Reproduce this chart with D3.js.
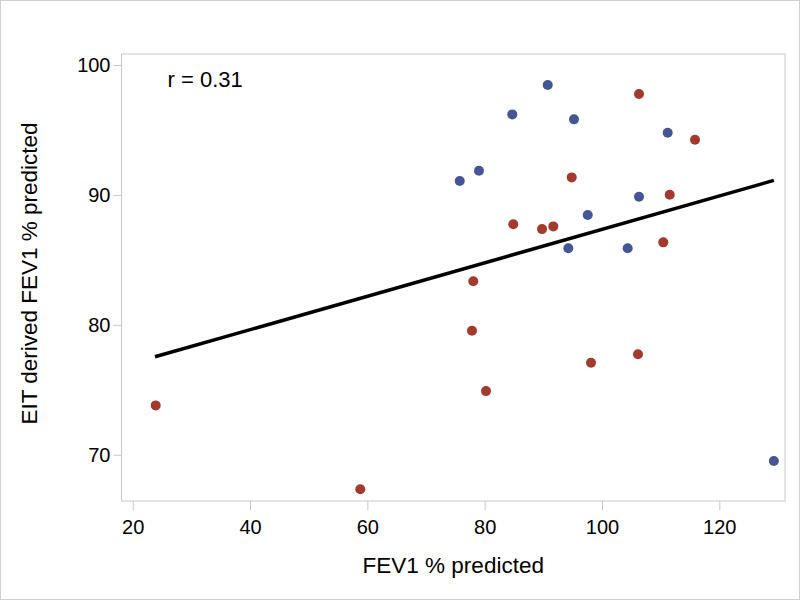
<!DOCTYPE html>
<html>
<head>
<meta charset="utf-8">
<script src="https://cdn.jsdelivr.net/npm/d3@7"></script>
<style>
  html, body { margin: 0; padding: 0; background: #fff; }
  svg { display: block; font-family: Arial, "Liberation Sans", sans-serif; }
</style>
</head>
<body>
<svg id="chart" width="800" height="600"></svg>
<script>
// Group 1 (blue)
const blueX = [90.75, 84.71, 95.23, 111.2, 75.75, 79.03, 106.31, 97.57, 94.26, 104.38, 129.3];
const blueY = [98.46, 96.20, 95.82, 94.79, 91.07, 91.86, 89.86, 88.45, 85.89, 85.89, 69.52];
// Group 2 (red)
const redX = [106.31, 115.86, 94.84, 111.55, 84.88, 89.78, 91.70, 110.45, 78.06, 77.84, 98.13, 106.14, 80.23, 23.92, 58.80];
const redY = [97.77, 94.25, 91.35, 90.02, 87.74, 87.37, 87.58, 86.35, 83.35, 79.55, 77.08, 77.73, 74.90, 73.80, 67.34];
// Regression line endpoints
const fitX = [23.8, 129.3];
const fitY = [77.54, 91.12];
const xTicks = [20, 40, 60, 80, 100, 120];
const yTicks = [70, 80, 90, 100];
const corrLabel = "r = 0.31";
const xTitle = "FEV1 % predicted";
const yTitle = "EIT derived FEV1 % predicted";

const svg = d3.select("#chart");
const W = 800, H = 600;
const plot = { left: 121.5, right: 785, top: 54, bottom: 501 };

// outer border
svg.append("rect").attr("x", 0.5).attr("y", 0.5).attr("width", W - 1).attr("height", H - 1)
  .attr("fill", "#fff").attr("stroke", "#d0d0d0");

const x = d3.scaleLinear().domain([18.09, 131.2]).range([plot.left, plot.right]);
const y = d3.scaleLinear().domain([66.44, 100.85]).range([plot.bottom, plot.top]);

// frame
svg.append("rect").attr("x", plot.left).attr("y", plot.top)
  .attr("width", plot.right - plot.left).attr("height", plot.bottom - plot.top)
  .attr("fill", "none").attr("stroke", "#c8c8c8").attr("stroke-width", 1);

// axes
const xAxis = svg.append("g").attr("transform", `translate(0,${plot.bottom})`)
  .call(d3.axisBottom(x).tickValues(xTicks).tickSize(9).tickPadding(10).tickFormat(d3.format("d")));
xAxis.select(".domain").remove();
xAxis.selectAll("line").attr("stroke", "#c8c8c8");
xAxis.selectAll("text").attr("font-size", "20px").attr("fill", "#000")
  .attr("font-family", "Arial, 'Liberation Sans', sans-serif");

const yAxis = svg.append("g").attr("transform", `translate(${plot.left},0)`)
  .call(d3.axisLeft(y).tickValues(yTicks).tickSize(8).tickPadding(3).tickFormat(d3.format("d")));
yAxis.select(".domain").remove();
yAxis.selectAll("line").attr("stroke", "#c8c8c8");
yAxis.selectAll("text").attr("font-size", "20px").attr("fill", "#000")
  .attr("font-family", "Arial, 'Liberation Sans', sans-serif");

// regression line
const line = d3.line().x(d => x(d[0])).y(d => y(d[1]));
svg.append("path").datum(fitX.map((v, i) => [v, fitY[i]]))
  .attr("d", line).attr("fill", "none").attr("stroke", "#000").attr("stroke-width", 3.5);

// points
const blue = blueX.map((v, i) => [v, blueY[i]]);
const red = redX.map((v, i) => [v, redY[i]]);
svg.append("g").selectAll("circle").data(blue).join("circle")
  .attr("cx", d => x(d[0])).attr("cy", d => y(d[1])).attr("r", 5).attr("fill", "#445694");
svg.append("g").selectAll("circle").data(red).join("circle")
  .attr("cx", d => x(d[0])).attr("cy", d => y(d[1])).attr("r", 5).attr("fill", "#A23A2E");

// annotation
svg.append("text").attr("x", 167.5).attr("y", 86.5).attr("font-size", "22px").attr("fill", "#000")
  .text(corrLabel);

// titles
svg.append("text").attr("x", (plot.left + plot.right) / 2).attr("y", 572.5)
  .attr("text-anchor", "middle").attr("font-size", "22.5px").attr("fill", "#000").text(xTitle);
svg.append("text").attr("transform", `translate(36.5,${(plot.top + plot.bottom) / 2 - 4}) rotate(-90)`)
  .attr("text-anchor", "middle").attr("font-size", "22.5px").attr("fill", "#000").text(yTitle);
</script>
</body>
</html>
